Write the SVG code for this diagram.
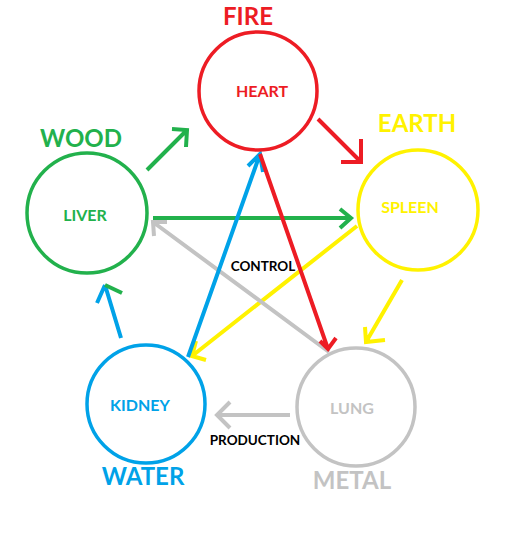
<svg xmlns="http://www.w3.org/2000/svg" width="523" height="535" viewBox="0 0 523 535">
<style>
.c{fill:none;stroke-width:3.5}
.a{fill:none;stroke-width:4;stroke-linecap:butt;stroke-linejoin:miter}
text{font-family:Lato,"Open Sans","Liberation Sans",sans-serif;font-weight:bold;text-anchor:middle}
.big{font-size:24px}
.in{font-size:16px}
.lb{font-size:13.5px;fill:#000}
.red{stroke:#ED1C24}.green{stroke:#22B14C}.yellow{stroke:#FFF200}.blue{stroke:#00A2E8}.gray{stroke:#C3C3C3}
</style>
<rect width="523" height="535" fill="#fff"/>
<g id="connectors">
<path class="a red" d="M318,119 L361,162 M341,162 L361,162 L361,139"/>
<path class="a green" d="M147,170 L187,130 M172,129 L187,130 L186,147"/>
<path class="a green" d="M153,218 L351,218 M340,209 L351,218 L340,228"/>
<path class="a yellow" d="M402,280 L366,342 M365,327 L366,342 L385,340"/>
<path class="a yellow" d="M357,226 L192,356 M196,341 L192,356 L206,360"/>
<path class="a gray" d="M290,415 L217,415 M230,402 L217,415 L230,428"/>
<path class="a gray" d="M329,352 L153,222 M167,222 L153,222 L154,236"/>
<path class="a blue" d="M121,338 L105,285 M97,303 L105,285"/>
<path class="a green" d="M105,285 L122,293"/>
<path class="a blue" d="M188,357 L260,154 M248,166 L260,154 L263,172"/>
<path class="a red" d="M260,154 L328,349 M320,341 L328,349 L336,338"/>
</g>
<g id="fire"><circle class="c red" cx="258" cy="91" r="59"/><text class="big" x="248" y="25" fill="#ED1C24">FIRE</text><text class="in" x="262" y="97" fill="#ED1C24">HEART</text></g>
<g id="wood"><circle class="c green" cx="87" cy="213" r="60"/><text class="big" x="81" y="147" fill="#22B14C">WOOD</text><text class="in" x="85" y="221" fill="#22B14C">LIVER</text></g>
<g id="earth"><circle class="c yellow" cx="418" cy="210" r="60"/><text class="big" x="417" y="132" fill="#FFF200">EARTH</text><text class="in" x="410" y="213" fill="#FFF200">SPLEEN</text></g>
<g id="water"><circle class="c blue" cx="146" cy="404" r="59"/><text class="big" x="143" y="485" fill="#00A2E8">WATER</text><text class="in" x="140" y="411" fill="#00A2E8">KIDNEY</text></g>
<g id="metal"><circle class="c gray" cx="356" cy="407" r="59"/><text class="big" x="352" y="489" fill="#C3C3C3">METAL</text><text class="in" x="352" y="414" fill="#C3C3C3">LUNG</text></g>
<g id="labels"><text class="lb" x="263" y="271">CONTROL</text><text class="lb" x="255" y="445">PRODUCTION</text></g>
</svg>
